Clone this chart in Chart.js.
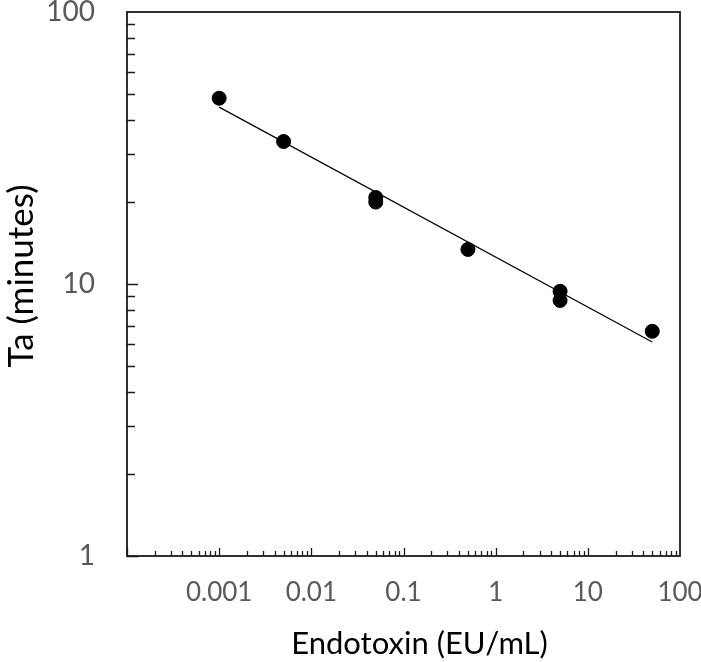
<!DOCTYPE html>
<html>
<head>
<meta charset="utf-8">
<script src="https://cdn.jsdelivr.net/npm/chart.js@4"></script>
<style>
  html, body { margin: 0; padding: 0; background: #fff; }
  #wrap { width: 701px; height: 662px; }
</style>
</head>
<body>
<div id="wrap"><canvas id="TaChart" width="701" height="662"></canvas></div>
<script>
// measured points
const endotoxin = [0.001, 0.005, 0.05, 0.05, 0.5, 5, 5, 50];
const taMinutes = [48.2, 33.4, 20.8, 20.0, 13.4, 9.4, 8.7, 6.7];

// fitted line end points
const fitX = [0.001, 50];
const fitY = [44.7, 6.12];

const xTickValues = [0.001, 0.01, 0.1, 1, 10, 100];
const yTickValues = [1, 10, 100];
const xDecades = [0.0001, 0.001, 0.01, 0.1, 1, 10];
const yDecades = [1, 10];
const minorSteps = [2, 3, 4, 5, 6, 7, 8, 9];

const xTitle = 'Endotoxin (EU/mL)';
const yTitle = 'Ta (minutes)';
const tickColor = '#595959';

let pointData = endotoxin.map((x, i) => ({x: x, y: taMinutes[i]}));
let fitData = fitX.map((x, i) => ({x: x, y: fitY[i]}));

//DRAW FRAME AND INSIDE TICK MARKS
const frameTicks = {
  id: 'frameTicks',
  beforeDatasetsDraw(chart) {
    const ctx = chart.ctx;
    const area = chart.chartArea;
    const xs = chart.scales.x, ys = chart.scales.y;
    ctx.save();
    ctx.strokeStyle = '#1a1a1a';
    ctx.lineWidth = 1.3;
    ctx.beginPath();
    // x axis ticks
    xDecades.forEach(d => {
      const px = Math.round(xs.getPixelForValue(d)) + 0.5;
      ctx.moveTo(px, area.bottom);
      ctx.lineTo(px, area.bottom - 8);
      minorSteps.forEach(m => {
        const mx = Math.round(xs.getPixelForValue(d * m)) + 0.5;
        ctx.moveTo(mx, area.bottom);
        ctx.lineTo(mx, area.bottom - 5);
      });
    });
    // y axis ticks
    yDecades.forEach(d => {
      const py = Math.round(ys.getPixelForValue(d)) + 0.5;
      ctx.moveTo(area.left, py);
      ctx.lineTo(area.left + 11, py);
      minorSteps.forEach(m => {
        const my = Math.round(ys.getPixelForValue(d * m)) + 0.5;
        ctx.moveTo(area.left, my);
        ctx.lineTo(area.left + 8, my);
      });
    });
    ctx.stroke();
    ctx.lineWidth = 1.8;
    ctx.strokeRect(area.left, area.top, area.right - area.left, area.bottom - area.top);
    ctx.restore();
  },
  //AXIS TITLES, placed a bit off centre like the original
  afterDraw(chart) {
    const ctx = chart.ctx;
    const area = chart.chartArea;
    ctx.save();
    ctx.fillStyle = '#000000';
    ctx.textAlign = 'center';
    ctx.textBaseline = 'alphabetic';
    ctx.font = '31px Lato';
    ctx.fillText(xTitle, (area.left + area.right) / 2 + 16, 654);
    ctx.translate(33, (area.top + area.bottom) / 2 - 8);
    ctx.rotate(-Math.PI / 2);
    ctx.font = '35px Lato';
    ctx.fillText(yTitle, 0, 0);
    ctx.restore();
  }
};

function noOverflow(scale) {
  scale.paddingTop = 0;
  scale.paddingBottom = 0;
  scale.paddingLeft = 0;
  scale.paddingRight = 0;
}

let context = document.getElementById('TaChart').getContext('2d');
let TaChart = new Chart(context, {
  type: 'scatter',
  data: {
    datasets: [{
      label: 'Fit',
      type: 'line',
      data: fitData,
      borderColor: '#000000',
      borderWidth: 1.2,
      pointRadius: 0,
      fill: false,
      order: 2
    },
    {
      label: 'Ta',
      data: pointData,
      backgroundColor: '#000000',
      borderColor: '#000000',
      borderWidth: 1,
      pointRadius: 7,
      order: 1
    }]
  },
  options: {
    responsive: false,
    animation: false,
    layout: { padding: {top: 12, right: 21, bottom: 0, left: 0} },
    plugins: {
      legend: { display: false },
      tooltip: { enabled: false }
    },
    scales: {
      x: {
        type: 'logarithmic',
        min: 0.0001,
        max: 100,
        afterBuildTicks: scale => { scale.ticks = xTickValues.map(v => ({value: v})); },
        afterFit: scale => { scale.height = 106; noOverflow(scale); },
        grid: { display: false, drawTicks: false },
        border: { display: false },
        ticks: {
          color: tickColor,
          padding: 21,
          maxRotation: 0,
          autoSkip: false,
          font: { family: 'Lato', size: 26 },
          callback: v => String(v)
        },
        title: { display: false }
      },
      y: {
        type: 'logarithmic',
        min: 1,
        max: 100,
        afterBuildTicks: scale => { scale.ticks = yTickValues.map(v => ({value: v})); },
        afterFit: scale => { scale.width = 127; noOverflow(scale); },
        grid: { display: false, drawTicks: false },
        border: { display: false },
        ticks: {
          color: tickColor,
          padding: 32,
          autoSkip: false,
          font: { family: 'Lato', size: 28 },
          callback: v => String(v)
        },
        title: { display: false }
      }
    }
  },
  plugins: [frameTicks]
});
</script>
</body>
</html>
